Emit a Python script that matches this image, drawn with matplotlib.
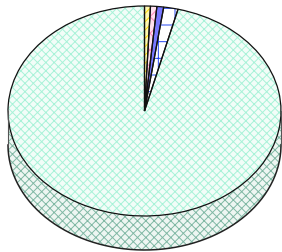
import matplotlib
matplotlib.use("Agg")
import matplotlib.pyplot as plt
import numpy as np

# slice shares, clockwise from 12 o'clock
labels = ["A", "B", "C", "D", "E"]
shares = [0.7, 0.75, 0.8, 1.7, 96.05]
hatch_colors = ["#ffdd00", "#ff88bb", "#5555ee", "#2244ee", "#a8f2d8"]
face_colors = ["#fff8b0", "#ffe0ee", "#7878ff", "white", "#f2fdf8"]
hatches = ["////", "xx", "", "+", "xxxx"]

W, H = 282, 253
cx, cy = 144.5, 112.0   # top ellipse centre in pixels
rx, ry = 136.5, 105.0   # top ellipse radii in pixels
depth = 34.0 / ry       # side height in units of ry

plt.rcParams["hatch.linewidth"] = 0.7

fig = plt.figure(figsize=(W / 100, H / 100), dpi=100)
ax = fig.add_axes([0, 0, 1, 1])

# side of the cake (only the front half is visible)
t = np.linspace(np.pi, 2 * np.pi, 200)
xs = np.concatenate([np.cos(t), np.cos(t[::-1])])
ys = np.concatenate([np.sin(t) - depth, np.sin(t[::-1])])
ax.fill(xs, ys, facecolor="#eef6f2", edgecolor="#80b8a4", hatch="xxxx", lw=0)
ax.plot(np.cos(t), np.sin(t) - depth, color="#222222", lw=1.1)
ax.plot([-1, -1], [0, -depth], color="#555555", lw=0.8)
ax.plot([1, 1], [0, -depth], color="#555555", lw=0.8)

# top face: hatched fill first, then outlines
wedges, _ = ax.pie(shares, startangle=90, counterclock=False, radius=1,
                   wedgeprops=dict(lw=0))
for w, fc, hc, h in zip(wedges, face_colors, hatch_colors, hatches):
    w.set_facecolor(fc)
    w.set_edgecolor(hc)
    w.set_hatch(h)

outline, _ = ax.pie(shares, startangle=90, counterclock=False, radius=1,
                    wedgeprops=dict(facecolor="none", edgecolor="#111111", lw=0.9))

ax.set_aspect("auto")
ax.set_xlim(-cx / rx, (W - cx) / rx)
ax.set_ylim(-(H - cy) / ry, cy / ry)
ax.axis("off")

fig.savefig("out.png", dpi=100)
